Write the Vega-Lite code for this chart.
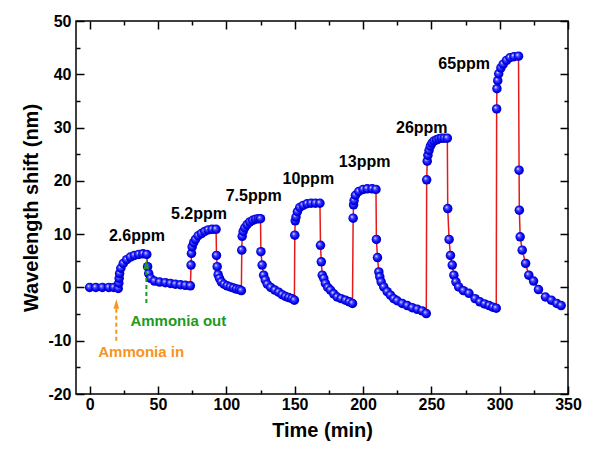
{
  "$schema": "https://vega.github.io/schema/vega-lite/v6.json",
  "width": 492,
  "height": 373,
  "autosize": {"type": "none"},
  "padding": {"left": 76, "top": 21, "right": 29, "bottom": 57},
  "background": "white",
  "config": {"view": {"stroke": "black", "strokeWidth": 1.5}, "font": "Liberation Sans"},
  "datasets": {
    "main": [
      {"t":0,"s":0},{"t":4.5,"s":0},{"t":9.3,"s":0},{"t":14,"s":0},{"t":17.6,"s":0},{"t":20.9,"s":-0.2},
      {"t":21.3,"s":0.8},{"t":21.6,"s":1.7},{"t":21.9,"s":2.6},{"t":22.8,"s":3.6},{"t":24.6,"s":4.5},{"t":27.1,"s":5.2},
      {"t":29.8,"s":5.7},{"t":32.7,"s":6.0},{"t":35.9,"s":6.2},{"t":39,"s":6.3},{"t":41.8,"s":6.2},
      {"t":42.4,"s":3.9},{"t":43.2,"s":2.6},{"t":44.6,"s":1.7},{"t":47.4,"s":1.2},{"t":51.2,"s":1.0},{"t":55.4,"s":0.9},
      {"t":59.1,"s":0.75},{"t":62.7,"s":0.6},{"t":66.4,"s":0.5},{"t":70,"s":0.4},{"t":73.7,"s":0.3},
      {"t":74.2,"s":4.2},{"t":74.5,"s":6.4},{"t":75,"s":7.6},{"t":76.1,"s":8.4},{"t":77.4,"s":9.0},{"t":79.4,"s":9.7},
      {"t":81.8,"s":10.1},{"t":84.2,"s":10.5},{"t":86.7,"s":10.8},{"t":89.6,"s":10.9},{"t":92.5,"s":10.9},
      {"t":92.8,"s":6.0},{"t":93.3,"s":3.9},{"t":94,"s":2.4},{"t":95,"s":1.7},{"t":96.3,"s":1.05},{"t":98.3,"s":0.6},
      {"t":100.6,"s":0.3},{"t":102.9,"s":0.1},{"t":105.2,"s":-0.1},{"t":107.4,"s":-0.3},{"t":109.5,"s":-0.4},{"t":111,"s":-0.6},
      {"t":111.3,"s":7.0},{"t":111.6,"s":9.6},{"t":112.3,"s":10.5},{"t":113.5,"s":11.2},{"t":115.2,"s":11.8},{"t":117.2,"s":12.3},
      {"t":119.3,"s":12.6},{"t":121.5,"s":12.8},{"t":123.5,"s":12.9},{"t":125,"s":12.9},
      {"t":125.3,"s":6.7},{"t":126.2,"s":4.2},{"t":127.3,"s":2.3},{"t":128.5,"s":1.4},{"t":130,"s":0.6},{"t":132.5,"s":0},
      {"t":135.5,"s":-0.5},{"t":138.3,"s":-0.9},{"t":140.8,"s":-1.35},{"t":143.3,"s":-1.7},{"t":145.7,"s":-1.9},{"t":148,"s":-2.1},{"t":149.8,"s":-2.4},
      {"t":150.1,"s":9.8},{"t":150.4,"s":12.5},{"t":151,"s":13.2},{"t":152,"s":14.2},{"t":153.7,"s":15.0},{"t":156.2,"s":15.4},
      {"t":159.1,"s":15.7},{"t":162.1,"s":15.8},{"t":165.2,"s":15.8},{"t":168.5,"s":15.8},
      {"t":168.9,"s":7.9},{"t":169.5,"s":4.8},{"t":170.2,"s":2.3},{"t":171.3,"s":1.7},{"t":172.5,"s":0.75},{"t":174.2,"s":0},
      {"t":176.2,"s":-0.5},{"t":178.6,"s":-1.2},{"t":181.1,"s":-1.8},{"t":184,"s":-2.1},{"t":187.2,"s":-2.4},{"t":190,"s":-2.7},{"t":192.3,"s":-3.0},
      {"t":192.8,"s":13.0},{"t":193.1,"s":15.5},{"t":193.5,"s":16.3},{"t":194.5,"s":17.3},{"t":196.9,"s":18.0},{"t":200.1,"s":18.4},
      {"t":203.1,"s":18.5},{"t":206.7,"s":18.5},{"t":209.5,"s":18.4},
      {"t":209.8,"s":9.0},{"t":210.6,"s":5.6},{"t":211.6,"s":2.9},{"t":212.3,"s":2.0},{"t":213.3,"s":1.05},{"t":215.2,"s":0.1},
      {"t":217.7,"s":-0.8},{"t":220.1,"s":-1.45},{"t":222.5,"s":-2.1},{"t":225,"s":-2.5},{"t":228.7,"s":-3.0},{"t":232.4,"s":-3.4},
      {"t":236,"s":-3.8},{"t":239.7,"s":-4.1},{"t":243.3,"s":-4.4},{"t":246.3,"s":-4.9},
      {"t":246.6,"s":20.2},{"t":247,"s":23.7},{"t":247.5,"s":24.8},{"t":248.3,"s":25.7},{"t":249.3,"s":26.5},{"t":250.5,"s":27.1},
      {"t":252,"s":27.5},{"t":253.8,"s":27.7},{"t":255.6,"s":27.9},{"t":257.5,"s":28.0},{"t":259.5,"s":28.0},{"t":261.7,"s":28.0},
      {"t":262,"s":14.8},{"t":263,"s":9.0},{"t":264,"s":6.0},{"t":265.3,"s":4.2},{"t":266.5,"s":2.3},{"t":268,"s":1.05},{"t":270,"s":0.1},
      {"t":273.5,"s":-0.6},{"t":277.5,"s":-1.1},{"t":282,"s":-2.1},{"t":285.5,"s":-2.7},{"t":289,"s":-3.1},{"t":292.3,"s":-3.4},
      {"t":295,"s":-3.7},{"t":297.5,"s":-3.9},
      {"t":297.8,"s":33.5},{"t":298,"s":37.3},{"t":298.6,"s":38.8},{"t":299.3,"s":40.1},{"t":300.9,"s":41.2},{"t":302.6,"s":41.9},
      {"t":305,"s":42.6},{"t":307.5,"s":43.1},{"t":310.5,"s":43.3},{"t":313.8,"s":43.4},
      {"t":314.2,"s":22.0},{"t":314.4,"s":14.5},{"t":315,"s":9.5},{"t":316.5,"s":7.0},{"t":319,"s":4.5},{"t":321.3,"s":2.3},
      {"t":324.8,"s":1.2},{"t":328.4,"s":-0.4},{"t":333.5,"s":-1.8},{"t":337.8,"s":-2.4},{"t":341.8,"s":-3.0},{"t":345,"s":-3.4}
    ],
    "ppm": [
      {"t":34.6,"s":9.6,"label":"2.6ppm"},
      {"t":80,"s":13.7,"label":"5.2ppm"},
      {"t":120,"s":17.1,"label":"7.5ppm"},
      {"t":160,"s":20.3,"label":"10ppm"},
      {"t":201.2,"s":23.6,"label":"13ppm"},
      {"t":243,"s":30,"label":"26ppm"},
      {"t":274,"s":42,"label":"65ppm"}
    ],
    "notes": [
      {"t":37.7,"s":-12.1,"label":"Ammonia in","c":"#F7941D"},
      {"t":64.9,"s":-6.3,"label":"Ammonia out","c":"#1E9A1E"}
    ],
    "arrows": [
      {"t":19.5,"s1":-10,"s2":-3.8,"c":"#F7941D"},
      {"t":41.5,"s1":-2.9,"s2":3.4,"c":"#1E9A1E"}
    ],
    "heads": [
      {"t":19.5,"s":-3.1,"c":"#F7941D"},
      {"t":41.5,"s":4.3,"c":"#1E9A1E"}
    ]
  },
  "layer": [
    {
      "data": {"name": "main"},
      "mark": {"type": "line", "color": "#E41A1C", "strokeWidth": 1.5},
      "encoding": {
        "x": {"field": "t", "type": "quantitative",
          "scale": {"domain": [-10, 350], "nice": false, "zero": false},
          "axis": {"orient": "bottom", "values": [0,25,50,75,100,125,150,175,200,225,250,275,300,325,350],
            "labelExpr": "datum.value % 50 === 0 ? toString(datum.value) : ''",
            "tickSize": {"condition": {"test": "datum.value % 50 === 0", "value": -8}, "value": -4},
            "tickColor": "black", "tickWidth": 1.5, "domain": false, "grid": false,
            "labelFont": "Liberation Sans", "labelFontWeight": "bold", "labelFontSize": 16, "labelColor": "black",
            "labelPadding": 10, "labelFlush": false,
            "title": "Time (min)", "titleFont": "Liberation Sans", "titleFontWeight": "bold", "titleFontSize": 20,
            "titleColor": "black", "titlePadding": 8}},
        "y": {"field": "s", "type": "quantitative",
          "scale": {"domain": [-20, 50], "nice": false, "zero": false},
          "axis": {"orient": "left", "values": [-20,-15,-10,-5,0,5,10,15,20,25,30,35,40,45,50],
            "labelExpr": "datum.value % 10 === 0 ? toString(datum.value) : ''",
            "tickSize": {"condition": {"test": "datum.value % 10 === 0", "value": -8}, "value": -4},
            "tickColor": "black", "tickWidth": 1.5, "domain": false, "grid": false,
            "labelFont": "Liberation Sans", "labelFontWeight": "bold", "labelFontSize": 16, "labelColor": "black",
            "labelPadding": 13, "labelFlush": false,
            "title": "Wavelength shift (nm)", "titleFont": "Liberation Sans", "titleFontWeight": "bold", "titleFontSize": 20,
            "titleColor": "black", "titlePadding": 6}}
      }
    },
    {
      "data": {"name": "main"},
      "mark": {"type": "point", "filled": true, "size": 90, "opacity": 1, "strokeWidth": 0,
        "fill": {"gradient": "radial", "x1": 0.35, "y1": 0.33, "r1": 0, "x2": 0.5, "y2": 0.5, "r2": 0.55,
          "stops": [{"offset": 0, "color": "#ffffff"}, {"offset": 0.3, "color": "#4a4aff"}, {"offset": 0.7, "color": "#0000ee"}, {"offset": 1, "color": "#0000a8"}]}},
      "encoding": {
        "x": {"field": "t", "type": "quantitative",
          "axis": {"orient": "top", "values": [0,25,50,75,100,125,150,175,200,225,250,275,300,325,350],
            "labels": false, "title": null, "domain": false, "grid": false,
            "tickSize": {"condition": {"test": "datum.value % 50 === 0", "value": -8}, "value": -4},
            "tickColor": "black", "tickWidth": 1.5}},
        "y": {"field": "s", "type": "quantitative",
          "axis": {"orient": "right", "values": [-20,-15,-10,-5,0,5,10,15,20,25,30,35,40,45,50],
            "labels": false, "title": null, "domain": false, "grid": false,
            "tickSize": {"condition": {"test": "datum.value % 10 === 0", "value": -8}, "value": -4},
            "tickColor": "black", "tickWidth": 1.5}}
      }
    },
    {
      "data": {"name": "ppm"},
      "mark": {"type": "text", "font": "Liberation Sans", "fontWeight": "bold", "fontSize": 16, "color": "black", "align": "center", "baseline": "middle"},
      "encoding": {
        "x": {"field": "t", "type": "quantitative", "axis": null},
        "y": {"field": "s", "type": "quantitative", "axis": null},
        "text": {"field": "label"}
      }
    },
    {
      "data": {"name": "arrows"},
      "mark": {"type": "rule", "strokeWidth": 2, "strokeDash": [4, 3]},
      "encoding": {
        "x": {"field": "t", "type": "quantitative", "axis": null},
        "y": {"field": "s1", "type": "quantitative", "axis": null},
        "y2": {"field": "s2"},
        "color": {"field": "c", "type": "nominal", "scale": null}
      }
    },
    {
      "data": {"name": "heads"},
      "mark": {"type": "point", "shape": "M-0.6,1L0,-1L0.6,1Z", "filled": true, "size": 90, "opacity": 1, "strokeWidth": 0},
      "encoding": {
        "x": {"field": "t", "type": "quantitative", "axis": null},
        "y": {"field": "s", "type": "quantitative", "axis": null},
        "color": {"field": "c", "type": "nominal", "scale": null}
      }
    },
    {
      "data": {"name": "notes"},
      "mark": {"type": "text", "font": "Liberation Sans", "fontWeight": "bold", "fontSize": 15, "align": "center", "baseline": "middle"},
      "encoding": {
        "x": {"field": "t", "type": "quantitative", "axis": null},
        "y": {"field": "s", "type": "quantitative", "axis": null},
        "text": {"field": "label"},
        "color": {"field": "c", "type": "nominal", "scale": null}
      }
    }
  ],
  "resolve": {"axis": {"x": "independent", "y": "independent"}}
}
